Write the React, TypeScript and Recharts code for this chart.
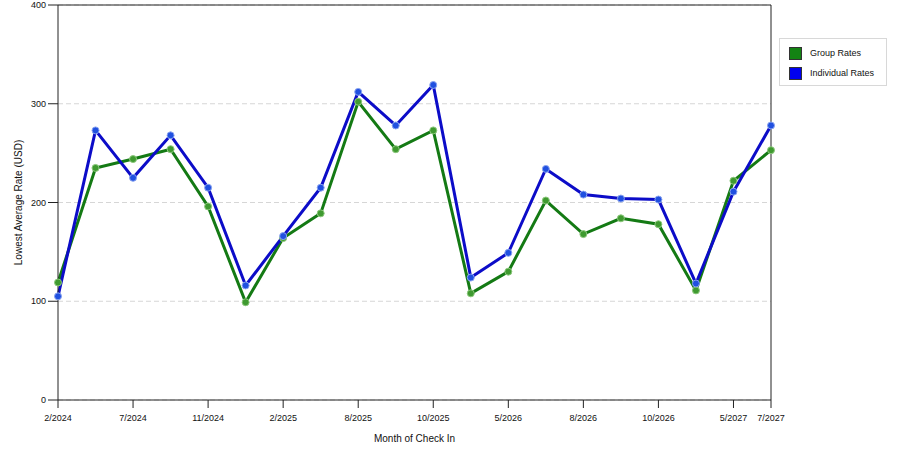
import React from "react";
import { LineChart, Line, XAxis, YAxis, CartesianGrid, ReferenceLine } from "recharts";

const months = [
  "2/2024", "5/2024", "7/2024", "9/2024", "11/2024", "12/2024", "2/2025", "5/2025",
  "8/2025", "9/2025", "10/2025", "3/2026", "5/2026", "7/2026", "8/2026", "9/2026",
  "10/2026", "3/2027", "5/2027", "7/2027",
];
const tickMonths = [
  "2/2024", "7/2024", "11/2024", "2/2025", "8/2025", "10/2025", "5/2026", "8/2026",
  "10/2026", "5/2027", "7/2027",
];
const groupRates = [119, 235, 244, 254, 196, 99, 164, 189, 302, 254, 273, 108, 130, 202, 168, 184, 178, 111, 222, 253];
const individualRates = [105, 273, 225, 268, 215, 116, 166, 215, 312, 278, 319, 124, 149, 234, 208, 204, 203, 118, 211, 278];
const yTicks = [0, 100, 200, 300, 400];

const seriesInfo = [
  { key: "group", name: "Group Rates", line: "#147a14", swatch: "#138313", dot: "#3f9a30", halo: "#8cc87c" },
  { key: "individual", name: "Individual Rates", line: "#0c0cc8", swatch: "#0000f0", dot: "#2050e0", halo: "#8aa4f0" },
];

const data = months.map((m, i) => ({ month: m, group: groupRates[i], individual: individualRates[i] }));

const FONT = "'Liberation Sans', Arial, sans-serif";

export default function App() {
  return (
    <div style={{ position: "absolute", left: 0, top: 0, width: 900, height: 450, background: "#fff", fontFamily: FONT }}>
      <LineChart width={900} height={450} data={data} margin={{ top: 5, right: 129, bottom: 0, left: 0 }}>
        <CartesianGrid horizontal vertical={false} stroke="#d6d6d6" strokeDasharray="5 3" />
        <XAxis
          dataKey="month"
          ticks={tickMonths}
          interval={0}
          height={50}
          tickSize={8}
          tickMargin={7}
          stroke="#222"
          tick={{ fontSize: 9, fill: "#111", fontFamily: FONT }}
          label={{ value: "Month of Check In", position: "insideBottom", offset: 8, fontSize: 10, fill: "#111", fontFamily: FONT }}
        />
        <YAxis
          domain={[0, 400]}
          ticks={yTicks}
          width={58}
          tickSize={10}
          stroke="#222"
          tick={{ fontSize: 9, fill: "#111", fontFamily: FONT }}
          label={{ value: "Lowest Average Rate (USD)", angle: -90, position: "insideLeft", offset: 18, fontSize: 10, fill: "#111", fontFamily: FONT, style: { textAnchor: "middle" } }}
        />
        <ReferenceLine y={400} stroke="#222" strokeWidth={1} />
        <ReferenceLine x={months[months.length - 1]} stroke="#222" strokeWidth={1} />
        {seriesInfo.map((s) => (
          <Line
            key={s.key}
            type="linear"
            dataKey={s.key}
            name={s.name}
            stroke={s.line}
            strokeWidth={3}
            dot={{ r: 3.5, fill: s.dot, stroke: s.halo, strokeWidth: 1 }}
            activeDot={false}
            isAnimationActive={false}
          />
        ))}
      </LineChart>
      <div
        style={{
          position: "absolute",
          left: 779,
          top: 38,
          width: 108,
          height: 48,
          border: "1px solid #d8d8d8",
          boxSizing: "border-box",
          fontSize: 9,
          color: "#111",
        }}
      >
        {seriesInfo.map((s, i) => (
          <div key={s.key} style={{ position: "absolute", left: 9, top: 8 + i * 20, display: "flex", alignItems: "center", height: 12 }}>
            <div style={{ width: 11, height: 11, background: s.swatch, border: "1px solid #333" }} />
            <span style={{ marginLeft: 8, whiteSpace: "nowrap" }}>{s.name}</span>
          </div>
        ))}
      </div>
    </div>
  );
}
